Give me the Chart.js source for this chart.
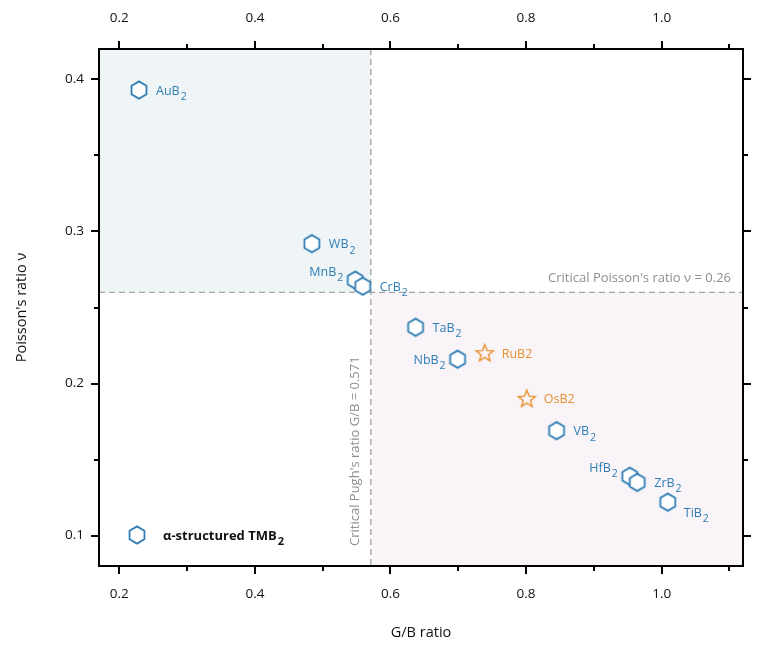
<!DOCTYPE html>
<html>
<head>
<meta charset="utf-8">
<script src="https://cdn.jsdelivr.net/npm/chart.js@4.4.1/dist/chart.umd.min.js"></script>
<style>
  body { margin: 0; background: #fff; }
</style>
</head>
<body>
<canvas id="gbChart" width="775" height="645"></canvas>
<script>
// data
var tmNames = ["AuB2", "WB2", "MnB2", "CrB2", "TaB2", "NbB2", "VB2", "HfB2", "ZrB2", "TiB2"]
var tmGB = [0.229, 0.484, 0.548, 0.559, 0.637, 0.699, 0.845, 0.953, 0.964, 1.009]
var tmPoisson = [0.393, 0.292, 0.268, 0.264, 0.237, 0.216, 0.169, 0.139, 0.135, 0.122]
var tmLabelSide = ["r", "r", "lu", "r", "r", "l", "r", "lu", "r", "rd"]

var newNames = ["RuB2", "OsB2"]
var newGB = [0.739, 0.801]
var newPoisson = [0.220, 0.190]
var newLabelSide = ["r", "r"]

var criticalGB = 0.571
var criticalPoisson = 0.26

var xMajor = [0.2, 0.4, 0.6, 0.8, 1.0]
var xMinor = [0.3, 0.5, 0.7, 0.9, 1.1]
var xTickLabels = ["0.2", "0.4", "0.6", "0.8", "1.0"]
var yMajor = [0.1, 0.2, 0.3, 0.4]
var yMinor = [0.15, 0.25, 0.35]
var yTickLabels = ["0.1", "0.2", "0.3", "0.4"]

var blue = "#2f7db4"
var orange = "#e8902c"
var fontFam = "'Open Sans', 'DejaVu Sans', sans-serif"

// marker images
function makeHexagon() {
  var c = document.createElement("canvas")
  c.width = 22
  c.height = 22
  var g = c.getContext("2d")
  g.beginPath()
  for (var k = 0; k < 6; k++) {
    var a = (-90 + k * 60) * Math.PI / 180
    var px = 11 + 8.6 * Math.cos(a)
    var py = 11 + 8.6 * Math.sin(a)
    if (k === 0) g.moveTo(px, py)
    else g.lineTo(px, py)
  }
  g.closePath()
  g.fillStyle = "#fff"
  g.fill()
  g.lineWidth = 1.8
  g.strokeStyle = blue
  g.stroke()
  return c
}

function makeStar() {
  var c = document.createElement("canvas")
  c.width = 22
  c.height = 22
  var g = c.getContext("2d")
  g.beginPath()
  for (var k = 0; k < 10; k++) {
    var r = k % 2 === 0 ? 9 : 3.9
    var a = (-90 + k * 36) * Math.PI / 180
    var px = 11 + r * Math.cos(a)
    var py = 11.5 + r * Math.sin(a)
    if (k === 0) g.moveTo(px, py)
    else g.lineTo(px, py)
  }
  g.closePath()
  g.lineWidth = 1.4
  g.strokeStyle = orange
  g.stroke()
  return c
}

var hexImg = makeHexagon()
var starImg = makeStar()

function toPoints(xs, ys) {
  var pts = []
  for (var i = 0; i < xs.length; i++) pts.push({ x: xs[i], y: ys[i] })
  return pts
}

// name like "TiB2": trailing digit drawn as subscript
function drawName(ctx, name, x, y, align, color, subscript) {
  var main = name
  var sub = ""
  if (subscript && /\d$/.test(name)) {
    main = name.slice(0, -1)
    sub = name.slice(-1)
  }
  ctx.font = "12.5px " + fontFam
  var wMain = ctx.measureText(main).width
  ctx.font = "10.5px " + fontFam
  var wSub = ctx.measureText(sub).width
  var startX = align === "left" ? x - wMain - wSub : x
  ctx.fillStyle = color
  ctx.textAlign = "left"
  ctx.textBaseline = "middle"
  ctx.font = "12.5px " + fontFam
  ctx.fillText(main, startX, y)
  if (sub) {
    ctx.font = "10.5px " + fontFam
    ctx.fillText(sub, startX + wMain + 1, y + 6)
  }
}

var regionsPlugin = {
  id: "regions",
  beforeDatasetsDraw: function (chart) {
    var ctx = chart.ctx
    var a = chart.chartArea
    var xs = chart.scales.x
    var ys = chart.scales.y
    var cx = xs.getPixelForValue(criticalGB)
    var cy = ys.getPixelForValue(criticalPoisson)
    ctx.save()
    ctx.fillStyle = "#eff5f6"
    ctx.fillRect(a.left, a.top, cx - a.left, cy - a.top)
    ctx.fillStyle = "#f8f4f8"
    ctx.fillRect(cx, cy, a.right - cx, a.bottom - cy)
    ctx.strokeStyle = "#a3a3a3"
    ctx.lineWidth = 1.3
    ctx.setLineDash([6, 4])
    ctx.beginPath()
    ctx.moveTo(cx, a.top)
    ctx.lineTo(cx, a.bottom)
    ctx.moveTo(a.left, cy)
    ctx.lineTo(a.right, cy)
    ctx.stroke()
    ctx.setLineDash([])

    // criterion captions
    ctx.fillStyle = "#8f8f8f"
    ctx.font = "13px " + fontFam
    ctx.textAlign = "right"
    ctx.textBaseline = "bottom"
    ctx.fillText("Critical Poisson's ratio \u03bd = 0.26", a.right - 12, cy - 7)
    ctx.translate(cx - 16, a.bottom - 20)
    ctx.rotate(-Math.PI / 2)
    ctx.textAlign = "left"
    ctx.textBaseline = "middle"
    ctx.fillText("Critical Pugh's ratio G/B = 0.571", 0, 0)
    ctx.restore()
  },
  afterDatasetsDraw: function (chart) {
    var ctx = chart.ctx
    ctx.save()
    var sets = [
      { names: tmNames, sides: tmLabelSide, color: blue, sub: true },
      { names: newNames, sides: newLabelSide, color: orange, sub: false },
    ]
    for (var d = 0; d < sets.length; d++) {
      var meta = chart.getDatasetMeta(d)
      for (var i = 0; i < meta.data.length; i++) {
        var p = meta.data[i]
        var side = sets[d].sides[i]
        var tx = p.x + 17
        var ty = p.y + 1
        var align = "right"
        if (side === "l") { tx = p.x - 13; align = "left" }
        if (side === "lu") { tx = p.x - 13; ty = p.y - 8; align = "left" }
        if (side === "rd") { tx = p.x + 16; ty = p.y + 11 }
        drawName(ctx, sets[d].names[i], tx, ty, align, sets[d].color, sets[d].sub)
      }
    }

    // legend inside the plot, bottom left
    var a = chart.chartArea
    var lx = a.left + 38
    var ly = a.bottom - 31
    ctx.drawImage(hexImg, lx - 11, ly - 11)
    ctx.fillStyle = "#111"
    ctx.font = "bold 13px " + fontFam
    ctx.textAlign = "left"
    ctx.textBaseline = "middle"
    var txt = "\u03b1-structured TMB"
    ctx.fillText(txt, lx + 26, ly + 1)
    var w = ctx.measureText(txt).width
    ctx.font = "bold 11px " + fontFam
    ctx.fillText("2", lx + 27 + w, ly + 7)
    ctx.restore()
  },
  afterDraw: function (chart) {
    var ctx = chart.ctx
    var a = chart.chartArea
    var xs = chart.scales.x
    var ys = chart.scales.y
    ctx.save()
    ctx.strokeStyle = "#000"
    ctx.lineWidth = 2
    ctx.strokeRect(a.left, a.top, a.right - a.left, a.bottom - a.top)
    ctx.beginPath()
    function xTick(v, len) {
      var px = Math.round(xs.getPixelForValue(v))
      ctx.moveTo(px, a.bottom)
      ctx.lineTo(px, a.bottom + len)
      ctx.moveTo(px, a.top)
      ctx.lineTo(px, a.top - len)
    }
    function yTick(v, len) {
      var py = Math.round(ys.getPixelForValue(v))
      ctx.moveTo(a.left, py)
      ctx.lineTo(a.left - len, py)
      ctx.moveTo(a.right, py)
      ctx.lineTo(a.right + len, py)
    }
    xMajor.forEach(function (v) { xTick(v, 8) })
    xMinor.forEach(function (v) { xTick(v, 5) })
    yMajor.forEach(function (v) { yTick(v, 8) })
    yMinor.forEach(function (v) { yTick(v, 5) })
    ctx.stroke()
    ctx.restore()
  },
}

function majorTicks(values) {
  return function (scale) {
    scale.ticks = values.map(function (v) { return { value: v } })
  }
}

function labelFor(values, labels) {
  return function (value) {
    for (var i = 0; i < values.length; i++) {
      if (Math.abs(values[i] - value) < 1e-6) return labels[i]
    }
    return ""
  }
}

var tickFont = { family: fontFam, size: 13.5 }

new Chart(document.getElementById("gbChart"), {
  type: "scatter",
  data: {
    datasets: [
      {
        label: "alpha TMB2",
        data: toPoints(tmGB, tmPoisson),
        pointStyle: hexImg,
        pointRadius: 9,
      },
      {
        label: "new",
        data: toPoints(newGB, newPoisson),
        pointStyle: starImg,
        pointRadius: 9,
      },
    ],
  },
  options: {
    responsive: false,
    animation: false,
    layout: { padding: 0 },
    plugins: {
      legend: { display: false },
      tooltip: { enabled: false },
    },
    scales: {
      x: {
        type: "linear",
        position: "bottom",
        min: 0.17,
        max: 1.12,
        afterBuildTicks: majorTicks(xMajor),
        afterFit: function (s) { s.height = 79 },
        grid: { display: false, drawTicks: false },
        border: { display: false },
        ticks: { padding: 20, color: "#111", font: tickFont, maxRotation: 0, callback: labelFor(xMajor, xTickLabels) },
        title: { display: true, text: "G/B ratio", color: "#111", font: { family: fontFam, size: 14.5 }, padding: 3 },
      },
      x2: {
        type: "linear",
        position: "top",
        min: 0.17,
        max: 1.12,
        afterBuildTicks: majorTicks(xMajor),
        afterFit: function (s) { s.height = 49 },
        grid: { display: false, drawTicks: false },
        border: { display: false },
        ticks: { padding: 23, color: "#111", font: tickFont, maxRotation: 0, callback: labelFor(xMajor, xTickLabels) },
      },
      y: {
        type: "linear",
        position: "left",
        min: 0.08,
        max: 0.42,
        afterBuildTicks: majorTicks(yMajor),
        afterFit: function (s) { s.width = 99 },
        grid: { display: false, drawTicks: false },
        border: { display: false },
        ticks: { padding: 15, color: "#111", font: tickFont, callback: labelFor(yMajor, yTickLabels) },
        title: { display: true, text: "Poisson's ratio \u03bd", color: "#111", font: { family: fontFam, size: 14.5 }, padding: 13 },
      },
      y2: {
        type: "linear",
        position: "right",
        min: 0.08,
        max: 0.42,
        afterBuildTicks: majorTicks(yMajor),
        afterFit: function (s) { s.width = 32 },
        grid: { display: false, drawTicks: false },
        border: { display: false },
        ticks: { display: false },
      },
    },
  },
  plugins: [regionsPlugin],
})
</script>
</body>
</html>
